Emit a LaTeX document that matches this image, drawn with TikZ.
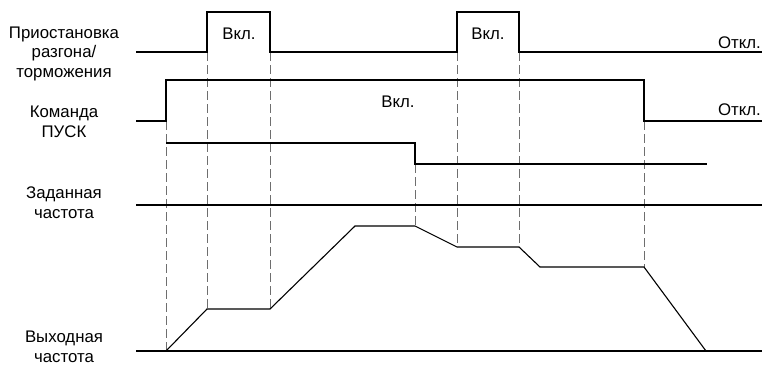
\documentclass[tikz,border=0pt]{standalone}
\usepackage{fontspec}
\setmainfont{Liberation Sans}
\definecolor{guidegray}{HTML}{6E6E6E}

\begin{document}
\begin{tikzpicture}[x=1pt,y=-1pt,
  sig/.style={line width=1.5pt},
  trace/.style={line width=1.1pt},
  guide/.style={guidegray,line width=.7pt,dash pattern=on 9pt off 4pt},
  lbl/.style={font=\fontsize{16.8}{19.5}\selectfont,align=center,anchor=base,inner sep=0pt}]
  \useasboundingbox (0,0) rectangle (762,365);
  \foreach \tx/\ya/\yb in {166/121/351,207/52/309,270/52/309,415/164/226,457/52/247,519/52/247,644/121/267}{
    \draw[guide] (\tx,\ya)--(\tx,\yb);
  }
  % hold
  \draw[sig] (136,52)--(207,52)--(207,12)--(270,12)--(270,52)--(457,52)--(457,12)--(519,12)--(519,52)--(762,52);
  % run
  \draw[sig] (136,121)--(166,121)--(166,80)--(644,80)--(644,121)--(762,121);
  % reference
  \draw[sig] (166,143)--(415,143)--(415,164)--(707,164);
  \draw[sig] (136,205)--(762,205);
  % output
  \draw[line width=2.4pt] (136,351)--(762,351);
  \draw[trace] (166,351)--(207,309)--(270,309)--(355,226)--(415,226)--(457,247)--(519,247)--(540,267)--(644,267)--(706,351);
  \node[lbl] (holdlbl) at (64,77) {Приостановка\\разгона/\\торможения};
  \node[lbl] (runlbl) at (64,137) {Команда\\ПУСК};
  \node[lbl] (reflbl) at (64,218) {Заданная\\частота};
  \node[lbl] (outlbl) at (64,362) {Выходная\\частота};
  \node[lbl] (on1) at (239,39) {Вкл.};
  \node[lbl] (on2) at (488,39) {Вкл.};
  \node[lbl] (on3) at (398,107) {Вкл.};
  \node[lbl,anchor=base east] (off1) at (761,48) {Откл.};
  \node[lbl,anchor=base east] (off2) at (761,115) {Откл.};
\end{tikzpicture}
\end{document}
